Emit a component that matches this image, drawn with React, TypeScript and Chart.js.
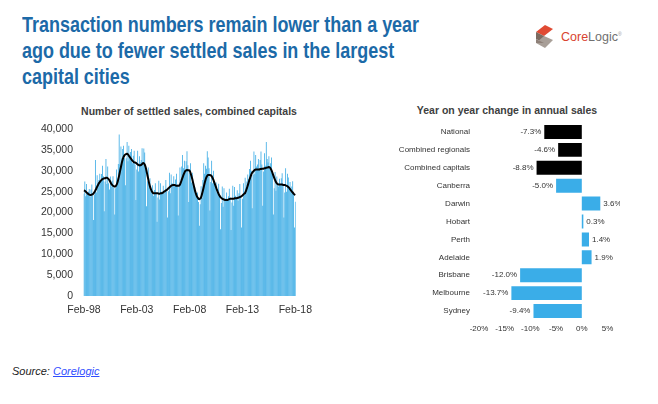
import React, { useEffect, useRef } from 'react';
import { Chart, registerables } from 'chart.js';

Chart.register(...registerables);

const FONT = '"Liberation Sans", Arial, Helvetica, sans-serif';

// ---------- Left chart data (monthly, Feb-98 .. Feb-18) ----------
const MONTH_NAMES = ['Jan', 'Feb', 'Mar', 'Apr', 'May', 'Jun', 'Jul', 'Aug', 'Sep', 'Oct', 'Nov', 'Dec'];

const settledSales = [
  // 1998 (Feb-Dec)
  24500, 27400, 23900, 26800, 24300, 25000, 25600, 23800, 25500, 26700, 24600,
  // 1999
  18200, 24300, 32600, 24800, 28900, 27100, 27800, 29300, 27600, 29200, 31200, 28700,
  // 2000
  20300, 27400, 32800, 26800, 31000, 27000, 25500, 28600, 26200, 27600, 28700, 26000,
  // 2001
  19500, 25800, 30300, 27000, 31600, 38700, 31500, 35800, 33000, 35200, 36000, 33200,
  // 2002
  26500, 33000, 36900, 32300, 36000, 33000, 34500, 35200, 31800, 33600, 34800, 31500,
  // 2003
  23000, 30300, 34800, 29800, 33500, 32000, 32600, 35400, 32000, 35300, 34400, 30500,
  // 2004
  21500, 27500, 30800, 25800, 28200, 25500, 25000, 26500, 24000, 25400, 27000, 24800,
  // 2005
  17800, 23600, 27600, 23100, 27000, 25000, 24800, 26400, 24600, 25400, 27800, 25600,
  // 2006
  18800, 25100, 29500, 24600, 29100, 27000, 26900, 28700, 26400, 27900, 29300, 26700,
  // 2007
  19300, 26200, 30800, 26900, 31000, 33800, 30600, 32400, 29600, 32300, 34700, 31300,
  // 2008
  22500, 29400, 31800, 27200, 29500, 26400, 26200, 26000, 24300, 24600, 24800, 22500,
  // 2009
  16800, 22000, 26300, 23500, 27800, 31800, 29300, 31200, 30500, 34700, 33200, 30600,
  // 2010
  20500, 27300, 32400, 27000, 30000, 27300, 26500, 27200, 24800, 25600, 26900, 24300,
  // 2011
  16000, 22300, 26200, 21400, 25800, 23500, 22900, 24800, 23000, 23900, 25700, 23600,
  // 2012
  15800, 22400, 26400, 21600, 26100, 24000, 23600, 25300, 22800, 24600, 26800, 23800,
  // 2013
  16400, 23300, 27000, 24200, 28300, 26000, 27400, 29100, 28000, 30400, 32400, 30000,
  // 2014
  21000, 29000, 34600, 29200, 33800, 31000, 31500, 32800, 30200, 32600, 34600, 31500,
  // 2015
  21600, 29800, 34200, 31200, 36900, 32800, 32000, 33500, 30400, 31800, 33200, 29800,
  // 2016
  19500, 25800, 29700, 25200, 28600, 27000, 26200, 28100, 26500, 28200, 29400, 26900,
  // 2017
  18800, 24800, 30600, 25000, 29300, 28400, 26000, 27300, 25100, 26200, 27500, 24800,
  // 2018 (Jan-Feb)
  16400, 22600,
];

const movingAverage = [
  // 1998 (Feb-Dec)
  25300, 25200, 25000, 24800, 24600, 24400, 24300, 24200, 24200, 24300, 24400,
  // 1999
  24600, 24900, 25300, 25700, 26200, 26600, 27000, 27300, 27600, 27800, 28000, 28100,
  // 2000
  28200, 28200, 28300, 28300, 28200, 28000, 27700, 27300, 26900, 26600, 26400, 26300,
  // 2001
  26200, 26300, 26600, 27200, 28000, 28900, 29900, 30900, 31900, 32700, 33300, 33700,
  // 2002
  33900, 34000, 34100, 33900, 33600, 33300, 33000, 32700, 32400, 32200, 32000, 32000,
  // 2003
  31900, 31700, 31500, 31400, 31300, 31300, 31400, 31600, 31800, 31800, 31500, 30900,
  // 2004
  30000, 29000, 28000, 27000, 26200, 25600, 25100, 24800, 24600, 24600, 24600, 24600,
  // 2005
  24600, 24600, 24500, 24500, 24600, 24600, 24700, 24800, 25000, 25100, 25300, 25400,
  // 2006
  25600, 25800, 26000, 26200, 26400, 26500, 26600, 26600, 26600, 26500, 26400, 26400,
  // 2007
  26400, 26400, 26700, 27200, 27800, 28400, 29000, 29500, 29900, 30100, 30200, 30100,
  // 2008
  30100, 30000, 29500, 28800, 28000, 27100, 26200, 25300, 24600, 24000, 23600, 23300,
  // 2009
  23200, 23300, 23700, 24400, 25200, 26100, 27000, 27800, 28400, 28800, 29000, 29000,
  // 2010
  29000, 28900, 28700, 28300, 27800, 27200, 26600, 26000, 25400, 24900, 24400, 24000,
  // 2011
  23700, 23500, 23300, 23200, 23100, 23000, 23000, 23000, 23000, 23100, 23200, 23300,
  // 2012
  23300, 23300, 23300, 23300, 23400, 23400, 23400, 23500, 23500, 23600, 23700, 23800,
  // 2013
  23900, 24100, 24300, 24500, 24700, 25200, 25800, 26500, 27200, 27900, 28500, 29100,
  // 2014
  29500, 29800, 30000, 30200, 30300, 30300, 30300, 30300, 30300, 30400, 30400, 30500,
  // 2015
  30500, 30500, 30600, 30600, 30700, 30800, 30800, 30900, 30800, 30500, 30100, 29500,
  // 2016
  28900, 28300, 27800, 27300, 27000, 26800, 26700, 26700, 26700, 26700, 26700, 26600,
  // 2017
  26600, 26600, 26500, 26400, 26300, 26100, 25900, 25600, 25300, 25000, 24800, 24500,
  // 2018 (Jan-Feb)
  24300, 24200,
];

const START_YEAR = 1998;
const START_MONTH = 1; // Feb
const monthLabels = settledSales.map((_, i) => {
  const k = START_MONTH + i;
  const m = k % 12;
  const y = (START_YEAR + Math.floor(k / 12)) % 100;
  return `${MONTH_NAMES[m]}-${String(y).padStart(2, '0')}`;
});
const xTickLabels = ['Feb-98', 'Feb-03', 'Feb-08', 'Feb-13', 'Feb-18'];

// ---------- Right chart data ----------
const regions = [
  'National',
  'Combined regionals',
  'Combined capitals',
  'Canberra',
  'Darwin',
  'Hobart',
  'Perth',
  'Adelaide',
  'Brisbane',
  'Melbourne',
  'Sydney',
];
const yoyChange = [-7.3, -4.6, -8.8, -5.0, 3.6, 0.3, 1.4, 1.9, -12.0, -13.7, -9.4];
const aggregateRegions = ['National', 'Combined regionals', 'Combined capitals'];

const BAR_BLUE = '#36a9e4';
const RIGHT_BLUE = '#3aade8';
const TEXT = '#333333';

const valueLabelPlugin = {
  id: 'valueLabels',
  afterDatasetsDraw(chart: any) {
    const meta = chart.getDatasetMeta(0);
    const ctx = chart.ctx;
    ctx.save();
    ctx.font = `8px ${FONT}`;
    ctx.fillStyle = TEXT;
    ctx.textBaseline = 'middle';
    meta.data.forEach((bar: any, i: number) => {
      const v = yoyChange[i];
      const txt = v.toFixed(1) + '%';
      if (v < 0) {
        ctx.textAlign = 'right';
        ctx.fillText(txt, bar.x - 3, bar.y);
      } else {
        ctx.textAlign = 'left';
        ctx.fillText(txt, bar.x + 3, bar.y);
      }
    });
    ctx.restore();
  },
};

function CoreLogicLogo() {
  return (
    <div style={{ position: 'absolute', left: 536, top: 22, height: 30, display: 'flex', alignItems: 'center' }}>
      <svg width="18" height="26" viewBox="0 0 18 26">
        <polygon points="0,8 9,1 17,5 8,12" fill="#e04a33" />
        <polygon points="0,8 8,12 8,19 0,15" fill="#7b6a60" />
        <polygon points="8,12 17,16 9,24 0,19" fill="#a89f98" />
        <polygon points="0,15 8,19 0,19" fill="#8e8078" />
      </svg>
      <span style={{ fontFamily: FONT, fontSize: 12.5, marginLeft: 7, letterSpacing: 0 }}>
        <span style={{ color: '#d9432f' }}>Core</span>
        <span style={{ color: '#707070' }}>Logic</span>
        <span style={{ color: '#999', fontSize: 5, verticalAlign: 'super' }}>®</span>
      </span>
    </div>
  );
}

export default function App() {
  const leftRef = useRef<HTMLCanvasElement | null>(null);
  const rightRef = useRef<HTMLCanvasElement | null>(null);

  useEffect(() => {
    document.body.style.margin = '0';
    const left = new Chart(leftRef.current as HTMLCanvasElement, {
      type: 'bar',
      data: {
        labels: monthLabels,
        datasets: [
          {
            type: 'line',
            data: movingAverage,
            borderColor: '#000000',
            borderWidth: 2,
            pointRadius: 0,
            tension: 0.3,
            fill: false,
          } as any,
          {
            type: 'bar',
            data: settledSales,
            backgroundColor: BAR_BLUE,
            barPercentage: 1,
            categoryPercentage: 0.9,
          } as any,
        ],
      },
      options: {
        animation: false,
        responsive: false,
        maintainAspectRatio: false,
        layout: { padding: { top: 29, right: 12.5, bottom: 4, left: 0 } },
        plugins: {
          legend: { display: false },
          tooltip: { enabled: false },
          title: { display: false },
        },
        scales: {
          x: {
            grid: { display: false, drawTicks: false },
            border: { display: false },
            ticks: {
              autoSkip: false,
              maxRotation: 0,
              minRotation: 0,
              padding: 8,
              color: TEXT,
              font: { family: FONT, size: 10.5 },
              callback: (_v: any, i: number) => (xTickLabels.includes(monthLabels[i]) ? monthLabels[i] : ''),
            },
            afterFit: (s: any) => {
              s.height = 20;
            },
          },
          y: {
            min: 0,
            max: 40000,
            grid: { display: false, drawTicks: false },
            border: { display: false },
            ticks: {
              stepSize: 5000,
              padding: 10.5,
              color: TEXT,
              font: { family: FONT, size: 10.5 },
              callback: (v: any) => Number(v).toLocaleString('en-US'),
            },
            afterFit: (s: any) => {
              s.width = 83.5;
            },
          },
        },
      } as any,
    });

    const right = new Chart(rightRef.current as HTMLCanvasElement, {
      type: 'bar',
      data: {
        labels: regions,
        datasets: [
          {
            data: yoyChange,
            backgroundColor: regions.map((r) => (aggregateRegions.includes(r) ? '#000000' : RIGHT_BLUE)),
            barPercentage: 1,
            categoryPercentage: 0.78,
          },
        ],
      },
      options: {
        indexAxis: 'y',
        animation: false,
        responsive: false,
        maintainAspectRatio: false,
        layout: { padding: { top: 23, right: 12.5, bottom: 4, left: 0 } },
        plugins: {
          legend: { display: false },
          tooltip: { enabled: false },
        },
        scales: {
          x: {
            min: -20,
            max: 5,
            grid: { display: false, drawTicks: false },
            border: { display: false },
            ticks: {
              stepSize: 5,
              padding: 4,
              color: TEXT,
              font: { family: FONT, size: 8 },
              callback: (v: any) => `${v}%`,
            },
            afterFit: (s: any) => {
              s.height = 16;
            },
          },
          y: {
            grid: { display: false, drawTicks: false },
            border: { display: false },
            ticks: {
              padding: 9,
              color: TEXT,
              font: { family: FONT, size: 8 },
            },
            afterFit: (s: any) => {
              s.width = 99;
            },
          },
        },
      } as any,
      plugins: [valueLabelPlugin],
    });

    return () => {
      left.destroy();
      right.destroy();
    };
  }, []);

  return (
    <div
      style={{
        position: 'absolute',
        left: 0,
        top: 0,
        width: 658,
        height: 404,
        background: '#ffffff',
        overflow: 'hidden',
        fontFamily: FONT,
      }}
    >
      <div
        style={{
          position: 'absolute',
          left: 22,
          top: 12,
          fontFamily: FONT,
          fontWeight: 'bold',
          fontSize: 22,
          lineHeight: '26px',
          color: '#1c6aa8',
          whiteSpace: 'nowrap',
          transform: 'scaleX(0.816)',
          transformOrigin: 'left top',
        }}
      >
        Transaction numbers remain lower than a year
        <br />
        ago due to fewer settled sales in the largest
        <br />
        capital cities
      </div>
      <CoreLogicLogo />

      <div
        style={{
          position: 'absolute',
          left: 0,
          top: 104,
          width: 378,
          textAlign: 'center',
          fontWeight: 'bold',
          fontSize: 10.5,
          lineHeight: '14px',
          color: '#404040',
        }}
      >
        Number of settled sales, combined capitals
      </div>
      <div
        style={{
          position: 'absolute',
          left: 407,
          top: 103,
          width: 200,
          textAlign: 'center',
          fontWeight: 'bold',
          fontSize: 10.5,
          lineHeight: '14px',
          color: '#404040',
        }}
      >
        Year on year change in annual sales
      </div>

      <canvas
        ref={leftRef}
        width={320}
        height={220}
        style={{ position: 'absolute', left: 0, top: 100, width: 320, height: 220, display: 'block' }}
      />
      <canvas
        ref={rightRef}
        width={240}
        height={240}
        style={{ position: 'absolute', left: 380, top: 100, width: 240, height: 240, display: 'block' }}
      />

      <div
        style={{
          position: 'absolute',
          left: 12,
          top: 363,
          fontSize: 11,
          lineHeight: '16px',
          fontStyle: 'italic',
          color: '#222222',
        }}
      >
        Source:{' '}
        <span style={{ color: '#2f4dff', textDecoration: 'underline' }}>Corelogic</span>
      </div>
    </div>
  );
}
